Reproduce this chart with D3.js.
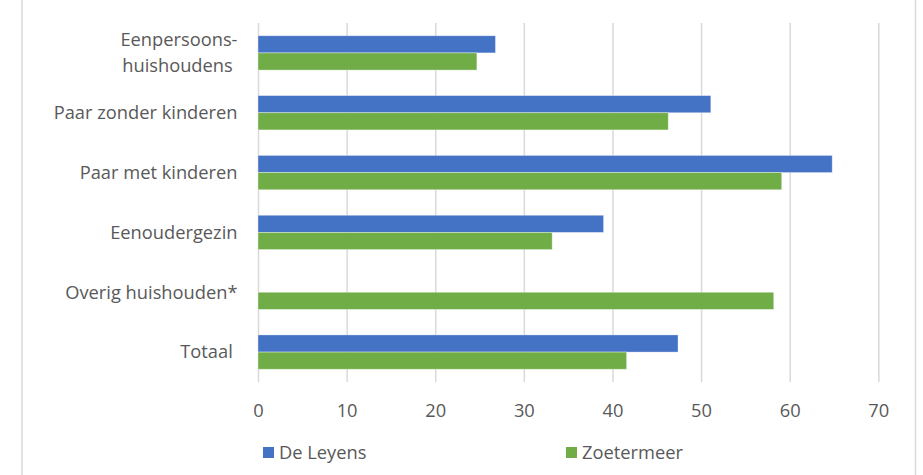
<!DOCTYPE html>
<html><head><meta charset="utf-8">
<script src="https://cdn.jsdelivr.net/npm/d3@7"></script>
<style>
body{margin:0;background:#fff;}
svg{display:block;font-family:"Open Sans",sans-serif;}
text{white-space:pre;}
</style></head>
<body><svg id="c" width="923" height="475"></svg>
<script>
const categories = ["Eenpersoons-\nhuishoudens ", "Paar zonder kinderen", "Paar met kinderen", "Eenoudergezin", "Overig huishouden*", "Totaal "];
const seriesNames = ["De Leyens", "Zoetermeer"];
const deLeyens = [26.8, 51.1, 64.8, 39.0, null, 47.4];
const zoetermeer = [24.7, 46.3, 59.1, 33.2, 58.2, 41.6];
const xTicks = [0, 10, 20, 30, 40, 50, 60, 70];
const colors = ["#4472C4", "#70AD47"];
const FS = 18.3;

const svg = d3.select("#c");
const x = d3.scaleLinear().domain([0, 70]).range([258, 878.3]);
const y = d3.scaleBand().domain(categories).range([23, 382]).paddingInner(0.426).paddingOuter(0.213);
const ys = d3.scaleBand().domain(seriesNames).range([0, y.bandwidth()]);
const color = d3.scaleOrdinal().domain(seriesNames).range(colors);

// outer border lines
svg.append("line").attr("x1", 22).attr("x2", 22).attr("y1", 0).attr("y2", 475).attr("stroke", "#d9d9d9").attr("stroke-width", 1.5);
svg.append("line").attr("x1", 915.5).attr("x2", 915.5).attr("y1", 0).attr("y2", 475).attr("stroke", "#d9d9d9").attr("stroke-width", 1.5);

// gridlines via axis
const grid = svg.append("g").attr("transform", "translate(0,382)")
  .call(d3.axisBottom(x).tickValues(xTicks).tickSize(-(382 - 23)).tickFormat(""));
grid.select(".domain").remove();
grid.selectAll("line").attr("stroke", "#d9d9d9").attr("stroke-width", 1.5);

// tick labels
const ax = svg.append("g").attr("transform", "translate(0,416.5)")
  .call(d3.axisBottom(x).tickValues(xTicks).tickSize(0).tickPadding(0));
ax.select(".domain").remove();
ax.selectAll("text").attr("dy", 0).attr("font-size", FS).attr("fill", "#595959").attr("font-family", "Open Sans");

// bars
const rows = categories.map((c, i) => ({c, vals: [deLeyens[i], zoetermeer[i]]}));
const g = svg.selectAll("g.cat").data(rows).join("g").attr("class", "cat")
  .attr("transform", d => `translate(0,${y(d.c)})`);
g.selectAll("rect").data(d => d.vals.map((v, j) => ({s: seriesNames[j], v})).filter(e => e.v != null))
  .join("rect")
  .attr("x", x(0))
  .attr("y", e => ys(e.s))
  .attr("width", e => x(e.v) - x(0))
  .attr("height", ys.bandwidth())
  .attr("fill", e => color(e.s))
  .attr("stroke", "#ffffff").attr("stroke-opacity", 0.45).attr("stroke-width", 0.8);

// category labels
const lh = 25.7;
svg.selectAll("text.cat").data(categories).join("text").attr("class", "cat")
  .attr("text-anchor", "end").attr("font-size", FS).attr("fill", "#595959")
  .each(function(c) {
    const lines = c.split("\n");
    const cy = y(c) + y.bandwidth() / 2 + 6.3 - (lines.length - 1) * lh / 2;
    const t = d3.select(this);
    lines.forEach((l, k) => t.append("tspan").attr("x", 237.5).attr("y", cy + k * lh).text(l));
  });

// legend
const legX = [263, 566];
const lg = svg.selectAll("g.leg").data(seriesNames).join("g").attr("class", "leg")
  .attr("transform", (d, i) => `translate(${legX[i]},447)`);
lg.append("rect").attr("width", 11).attr("height", 11).attr("fill", d => color(d));
lg.append("text").attr("x", 16).attr("y", 11.5).attr("font-size", FS).attr("fill", "#595959").text(d => d);
</script></body></html>
